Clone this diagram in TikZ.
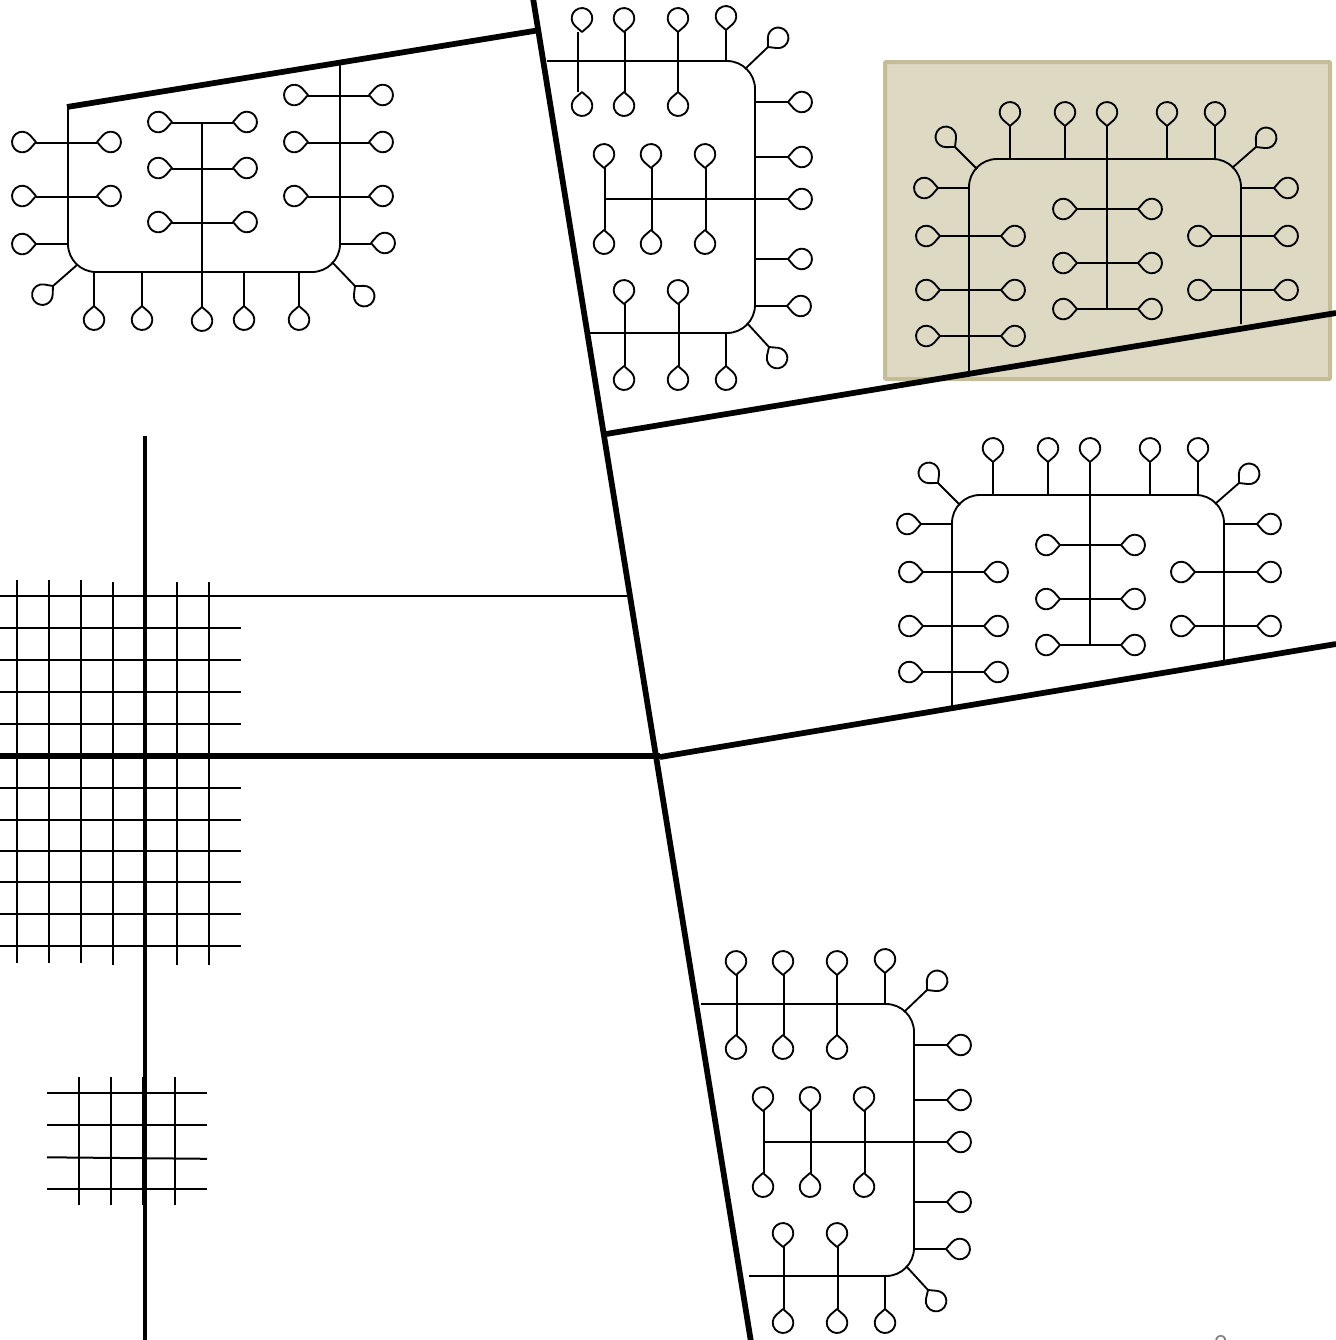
\documentclass[tikz,border=0pt]{standalone}
\usepackage{xcolor}
\definecolor{panelfill}{HTML}{DDD9C3}
\definecolor{panelrim}{HTML}{C4BD97}

\tikzset{
  wire/.style={line width=0.37mm, line join=round},
  gridline/.style={line width=0.4mm},
  heavy/.style={line width=1.15mm},
  pagenum/.style={text=gray, font=\sffamily\fontsize{17pt}{17pt}\selectfont, inner sep=0pt, anchor=north},
  bulb/.pic={
    \draw[wire] (0,0) -- (5.95,6.79) arc (138.8:-138.8:10.3) -- cycle;
  },
  % chamber opening towards the bottom, used twice
  lobeup/.pic={
    \draw[wire, rounded corners=0.56cm] (969,372) -- (969,159) -- (1241,159) -- (1241,324);
    \draw[wire] (1107,126) -- (1107,309);
    \foreach \ry in {209,263,309} \draw[wire] (1077,\ry) -- (1138,\ry);
    \foreach \ry in {236,290,336} \draw[wire] (940,\ry) -- (1001,\ry);
    \foreach \ry in {236,290} \draw[wire] (1212,\ry) -- (1274,\ry);
    \draw[wire] (938,188) -- (969,188);
    \draw[wire] (1241,188) -- (1274,188);
    \foreach \rx in {1010,1065,1167,1215} \draw[wire] (\rx,126) -- (\rx,159);
    \draw[wire] (977,169) -- (955,147);
    \draw[wire] (1232,168) -- (1256,147);
    \foreach \px/\py/\ang in {938/188/180, 940/236/180, 940/290/180, 940/336/180,
      1001/236/0, 1001/290/0, 1001/336/0,
      1077/209/180, 1077/263/180, 1077/309/180, 1138/209/0, 1138/263/0, 1138/309/0,
      1212/236/180, 1212/290/180, 1274/188/0, 1274/236/0, 1274/290/0,
      1010/126/90, 1065/126/90, 1107/126/90, 1167/126/90, 1215/126/90,
      955/147/132, 1256/147/42}
      \pic[rotate=\ang] at (\px,\py) {bulb};
  },
  % chamber opening towards the left, used twice
  lobeleft/.pic={
    \draw[wire, rounded corners=0.56cm] (547,61) -- (755,61) -- (755,333) -- (590,333);
    \draw[wire] (605,199) -- (788,199);
    \foreach \rx in {578,625,678} \draw[wire] (\rx,32) -- (\rx,92);
    \foreach \rx in {605,652,706} \draw[wire] (\rx,168) -- (\rx,230);
    \foreach \rx in {625,679} \draw[wire] (\rx,304) -- (\rx,366);
    \draw[wire] (726,61) -- (726,30);
    \draw[wire] (726,333) -- (726,366);
    \draw[wire] (745,69) -- (768,47);
    \draw[wire] (747,323) -- (769,347);
    \foreach \ry in {102,157,259} \draw[wire] (755,\ry) -- (788,\ry);
    \draw[wire] (755,306) -- (787,306);
    \foreach \px/\py/\ang in {624/32/90, 678/32/90, 726/30/90,
      624/92/270, 678/92/270,
      604/168/90, 651/168/90, 705/168/90, 604/230/270, 651/230/270, 705/230/270,
      624/304/90, 678/304/90, 624/366/270, 678/366/270, 726/366/270,
      788/102/0, 788/157/0, 788/199/0, 788/259/0, 787/306/0,
      768/47/42, 769/347/306}
      \pic[rotate=\ang] at (\px,\py) {bulb};
  }
}

\begin{document}
\begin{tikzpicture}[x=0.02cm, y=-0.02cm]
  \useasboundingbox (0,0) rectangle (1336,1340);

  % Highlighted panel
  \draw[line width=0.8mm, panelrim, fill=panelfill, rounded corners=0.02cm] (885,62) rectangle (1330,379);

  % Top left chamber
  \draw[wire, rounded corners=0.56cm] (68,108) -- (68,272) -- (340,272) -- (340,62);
  \draw[wire] (202,123) -- (202,307);
  \foreach \ry in {143,197} \draw[wire] (36,\ry) -- (97,\ry);
  \foreach \ry in {123,169,223} \draw[wire] (172,\ry) -- (233,\ry);
  \foreach \ry in {96,143,197} \draw[wire] (308,\ry) -- (369,\ry);
  \draw[wire] (36,244) -- (68,244);
  \draw[wire] (340,244) -- (371,244);
  \foreach \rx in {94,142,244,299} \draw[wire] (\rx,272) -- (\rx,306);
  \draw[wire] (77,265) -- (53,286);
  \draw[wire] (332,262) -- (355,286);
  \foreach \px/\py/\ang in {36/142/180, 36/196/180, 36/244/180, 172/122/180, 172/168/180, 172/222/180,
    308/95/180, 308/142/180, 308/196/180, 97/142/0, 97/196/0, 233/122/0, 233/168/0, 233/222/0,
    369/95/0, 369/142/0, 369/196/0, 371/243/0,
    94/306/270, 142/306/270, 202/307/270, 244/306/270, 299/306/270,
    53/286/219, 355/286/312}
    \pic[rotate=\ang] at (\px,\py) {bulb};

  % Repeated chambers
  \pic at (0,0) {lobeup};
  \pic at (-17,336) {lobeup};
  \pic at (0,0) {lobeleft};
  \pic at (159,943) {lobeleft};
  \draw[wire] (701,1004) -- (706,1004);

  % First column differs between the two left chambers
  \pic[rotate=90] at (582,32) {bulb};
  \pic[rotate=270] at (582,92) {bulb};
  \pic[rotate=90] at (736,975) {bulb};
  \pic[rotate=270] at (736,1035) {bulb};

  % Large grid
  \foreach \rx in {17,49,81} \draw[gridline] (\rx,580) -- (\rx,963);
  \foreach \rx in {113,177,209} \draw[gridline] (\rx,582) -- (\rx,965);
  \foreach \ry in {628,660,692,724,788,820,850.5,882,914,946} \draw[gridline] (0,\ry) -- (241,\ry);
  \draw[gridline] (0,596) -- (210,596);
  \draw[wire] (210,596) -- (630,596);

  % Small grid
  \foreach \rx in {79,111,143,175} \draw[gridline] (\rx,1077) -- (\rx,1205);
  \foreach \ry in {1093,1125,1189} \draw[gridline] (47,\ry) -- (207,\ry);
  \draw[gridline] (47,1157.3) -- (207,1158.8);

  % Heavy partition lines
  \draw[heavy] (67,107) -- (540,30);
  \draw[heavy] (533,-2) -- (751,1342);
  \draw[heavy] (606,434) -- (1336,313);
  \draw[heavy] (660,757) -- (1336,644);
  \draw[line width=1.2mm] (0,756) -- (660,756);
  \draw[line width=0.95mm] (145,436) -- (145,1340);

  % Page number, cut by the page edge
  \node[pagenum] (pageno) at (1221,1335) {8};
\end{tikzpicture}
\end{document}
